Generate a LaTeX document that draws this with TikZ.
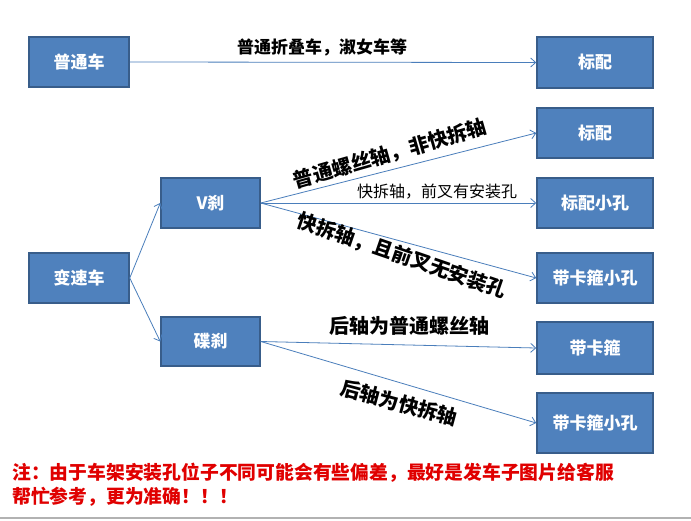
\documentclass[tikz,border=0pt]{standalone}
\usepackage{fontspec}
\setmainfont{Noto Sans CJK SC}
\usetikzlibrary{arrows.meta}
\definecolor{boxfill}{HTML}{4F81BD}
\definecolor{boxdraw}{HTML}{385D8A}
\definecolor{linecol}{HTML}{4A7EBB}
\definecolor{notered}{HTML}{E00000}
\tikzset{
  box/.style={draw=boxdraw, line width=1.5pt, fill=boxfill, text=white,
    minimum width=100pt, minimum height=50pt, inner sep=0pt,
    font=\fontsize{17pt}{17pt}\selectfont\bfseries},
  tbox/.style={box, minimum width=116pt},
  conn/.style={draw=linecol, line width=0.8pt, -{Straight Barb[length=5pt,width=9pt]}},
  lbl/.style={inner sep=0pt, text=black, font=\fontsize{20pt}{20pt}\selectfont\bfseries},
  slbl/.style={inner sep=0pt, text=black, font=\fontsize{16pt}{16pt}\selectfont},
  note/.style={inner sep=0pt, anchor=west, text=notered, font=\fontsize{18.8pt}{18.8pt}\selectfont\bfseries}
}
\begin{document}
\begin{tikzpicture}[x=1pt,y=-1pt]
\useasboundingbox (0,0) rectangle (691,520);
\fill[white] (0,0) rectangle (691,520);
% left nodes
\node[box] (pt) at (79,62) {普通车};
\node[box] (bs) at (79,278) {变速车};
\node[box, minimum width=99pt] (v) at (210.5,203) {V刹};
\node[box, minimum width=99pt, minimum height=49pt] (d) at (210.5,341.5) {碟刹};
% right nodes
\node[tbox, minimum height=51pt] (t0) at (595,62.5) {标配};
\node[tbox] (t1) at (595,133) {标配};
\node[tbox] (t2) at (595,203) {标配小孔};
\node[tbox] (t3) at (595,278) {带卡箍小孔};
\node[tbox, minimum height=52pt] (t4) at (595,348) {带卡箍};
\node[tbox, minimum height=60pt] (t5) at (595,423) {带卡箍小孔};
% connectors
\draw[conn] (pt.east) -- (t0.west);
\draw[conn] (bs.east) -- (v.west);
\draw[conn] (bs.east) -- (d.west);
\draw[conn] (v.east) -- (t1.west);
\draw[conn] (v.east) -- (t2.west);
\draw[conn] (v.east) -- (t3.west);
\draw[conn] (d.east) -- (t4.west);
\draw[conn] (d.east) -- (t5.west);
% labels
\node[lbl, font=\fontsize{17pt}{17pt}\selectfont\bfseries] (l0) at (322,47) {普通折叠车，淑女车等};
\node[lbl, rotate=16] (l1) at (390,154) {普通螺丝轴，非快拆轴};
\node[slbl] (l2) at (437,192) {快拆轴，前叉有安装孔};
\node[lbl, rotate=-19] (l3) at (402,256) {快拆轴，且前叉无安装孔};
\node[lbl] (l4) at (409,326) {后轴为普通螺丝轴};
\node[lbl, rotate=-15] (l5) at (399,403) {后轴为快拆轴};
% note
\node[note] (n1) at (12,473) {注：由于车架安装孔位子不同可能会有些偏差，最好是发车子图片给客服};
\node[note] (n2) at (12,497) {帮忙参考，更为准确！！！};
% bottom border line
\draw[gray!60, line width=2pt] (0,518) -- (691,518);
\end{tikzpicture}
\end{document}
